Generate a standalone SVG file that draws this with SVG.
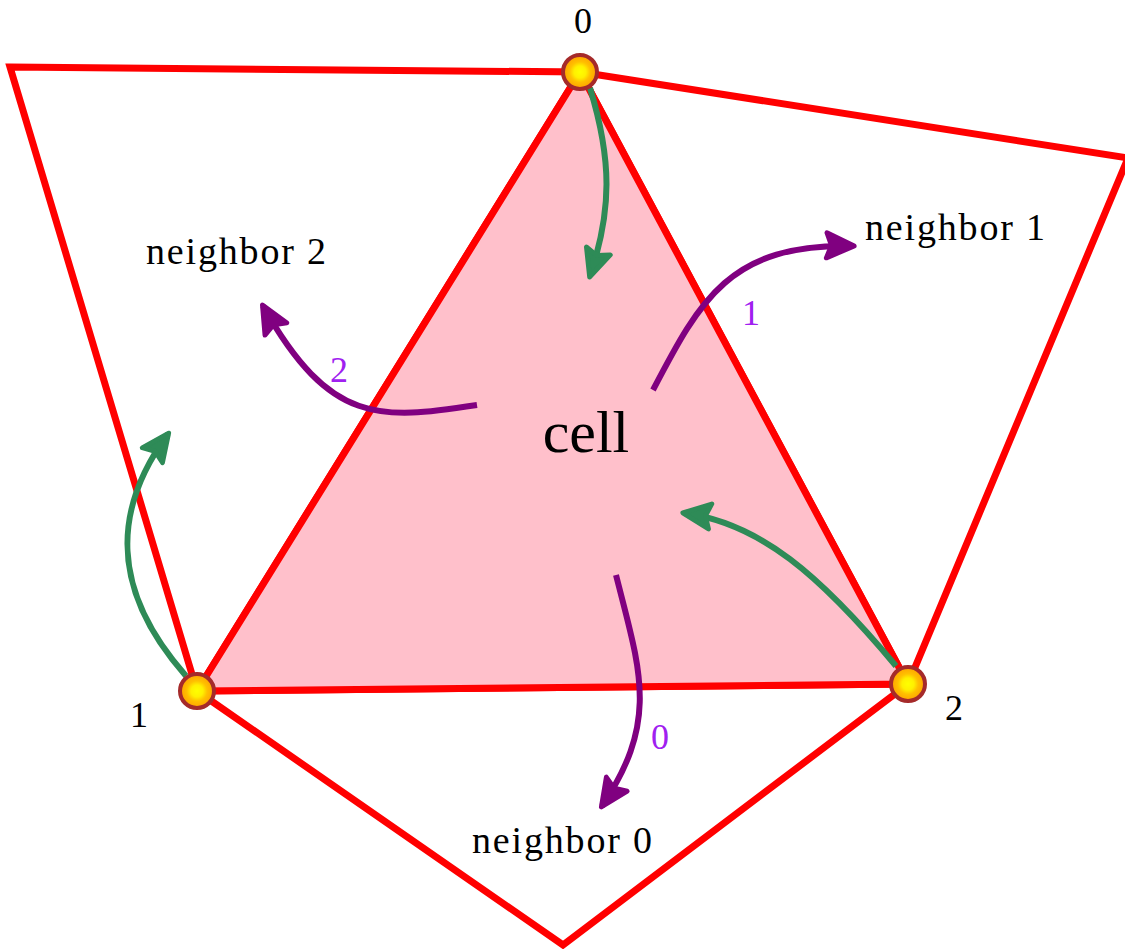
<svg xmlns="http://www.w3.org/2000/svg" width="1125" height="949" viewBox="0 0 1125 949">
<defs>
<radialGradient id="vg" cx="0.5" cy="0.5" r="0.5">
<stop offset="0" stop-color="#FFFF00"/>
<stop offset="0.35" stop-color="#FFF000"/>
<stop offset="0.6" stop-color="#FFC000"/>
<stop offset="1" stop-color="#FFA000"/>
</radialGradient>
<marker id="ag" markerWidth="8" markerHeight="8" viewBox="-1 -4 8 8" refX="4" refY="0" orient="auto" markerUnits="strokeWidth">
<path d="M4.2,0 L-0.4,-2.1 L0.4,0 L-0.4,2.1 Z" fill="#2E8B57" stroke="#2E8B57" stroke-width="0.8" stroke-linejoin="round"/>
</marker>
<marker id="ap" markerWidth="8" markerHeight="8" viewBox="-1 -4 8 8" refX="4" refY="0" orient="auto" markerUnits="strokeWidth">
<path d="M4.2,0 L-0.4,-2.1 L0.4,0 L-0.4,2.1 Z" fill="#800080" stroke="#800080" stroke-width="0.8" stroke-linejoin="round"/>
</marker>
</defs>
<style>
.edge{fill:none;stroke:#FF0000;stroke-width:7;stroke-linejoin:miter}
.cell{fill:#FFC0CB;stroke:#FF0000;stroke-width:7;stroke-linejoin:round}
.g{fill:none;stroke:#2E8B57;stroke-width:6;marker-end:url(#ag)}
.p{fill:none;stroke:#800080;stroke-width:6;marker-end:url(#ap)}
.v{fill:url(#vg);stroke:#A52A2A;stroke-width:4}
text{font-family:"Liberation Serif","Times New Roman",serif;fill:#000}
.lbl{font-size:36px;text-anchor:middle}
.nb{font-size:38px;text-anchor:middle}
.pl{font-size:36px;text-anchor:middle;fill:#A020F0}
.big{font-size:60px;text-anchor:middle}
</style>
<g id="neighbors">
<polygon class="edge" points="10,67 580,72 197,691"/>
<polygon class="edge" points="580,72 1128,158 908,684"/>
<polygon class="edge" points="197,691 563,945 908,684"/>
</g>
<g id="cell">
<polygon class="cell" points="580,72 197,691 908,684"/>
<text class="big" x="586" y="452">cell</text>
</g>
<g id="connectors">
<path class="g" d="M590,88 C612,160 612,210 590,276"/>
<path class="g" d="M186,676 C110,590 112,510 168,434"/>
<path class="g" d="M896,666 C820,575 760,523 684,513"/>
<path class="p" d="M653,390 C700,300 730,243 853,246"/>
<path class="p" d="M477,405 C380,420 330,425 263,306"/>
<path class="p" d="M616,575 C640,670 660,720 602,806"/>
</g>
<g id="v0"><circle class="v" cx="580" cy="72" r="17"/><text class="lbl" x="583" y="33">0</text></g>
<g id="v1"><circle class="v" cx="197" cy="691" r="17"/><text class="lbl" x="139" y="727">1</text></g>
<g id="v2"><circle class="v" cx="908" cy="684" r="17"/><text class="lbl" x="954" y="720">2</text></g>
<g id="labels">
<text class="nb" x="955" y="240" textLength="180" lengthAdjust="spacing">neighbor 1</text>
<text class="nb" x="236" y="264" textLength="180" lengthAdjust="spacing">neighbor 2</text>
<text class="nb" x="562" y="853" textLength="180" lengthAdjust="spacing">neighbor 0</text>
<text class="pl" x="751" y="325">1</text>
<text class="pl" x="339" y="382">2</text>
<text class="pl" x="660" y="749">0</text>
</g>
</svg>
